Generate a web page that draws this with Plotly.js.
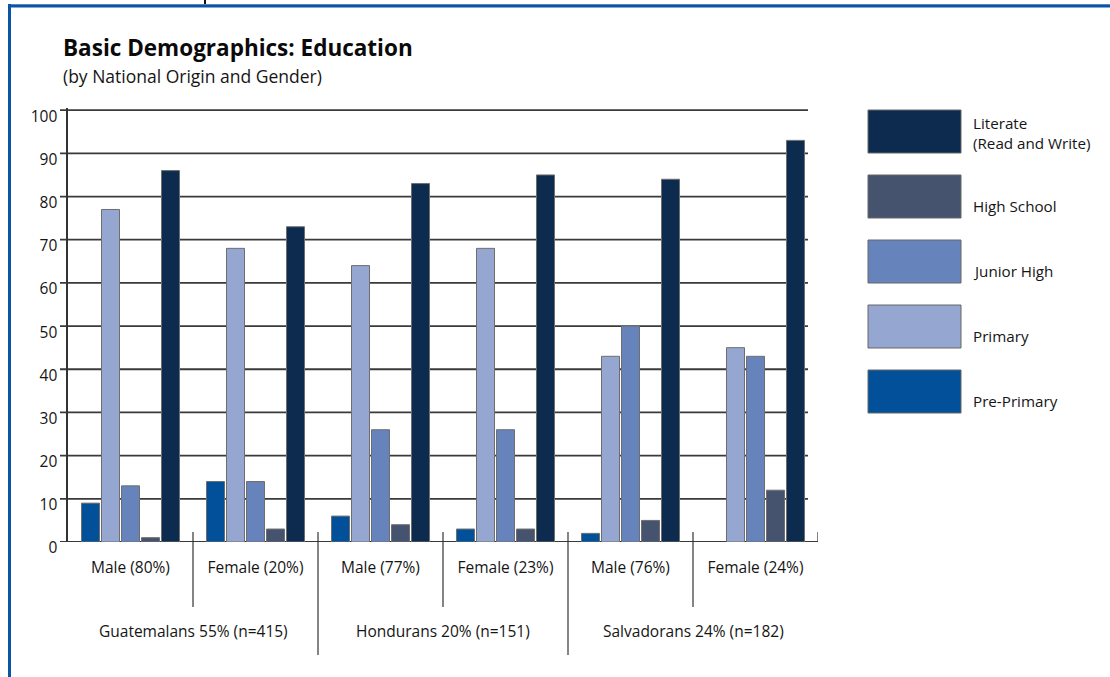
<!DOCTYPE html>
<html>
<head>
<meta charset="utf-8">
<script src="https://cdn.plot.ly/plotly-3.0.1.min.js"></script>
<style>html,body{margin:0;padding:0;background:#fff;}#chart{width:1110px;height:677px;}</style>
</head>
<body>
<div id="chart"></div>
<script>
// ---- data ----
const categories = ["Male (80%)", "Female (20%)", "Male (77%)", "Female (23%)", "Male (76%)", "Female (24%)"];
const countries = ["Guatemalans 55% (n=415)", "Hondurans 20% (n=151)", "Salvadorans 24% (n=182)"];
const prePrimary = [9, 14, 6, 3, 2, 0];
const primary    = [77, 68, 64, 68, 43, 45];
const juniorHigh = [13, 14, 26, 26, 50, 43];
const highSchool = [1, 3, 4, 3, 5, 12];
const literate   = [86, 73, 83, 85, 84, 93];
const seriesNames = ["Pre-Primary", "Primary", "Junior High", "High School", "Literate<br>(Read and Write)"];
const seriesColors = ["#02509a", "#95a6d0", "#6783bb", "#45536f", "#0d2b4e"];
const yTicks = [0, 10, 20, 30, 40, 50, 60, 70, 80, 90, 100];

// ---- layout helpers (pixel -> paper) ----
const L = 68, R = 818, T = 108, B = 542, W = 1110, H = 677;
const px = x => (x - L) / (R - L);
const py = y => (B - y) / (B - T);

const seriesValues = [prePrimary, primary, juniorHigh, highSchool, literate];
const traces = seriesValues.map((vals, i) => ({
  type: "bar",
  name: seriesNames[i],
  x: categories,
  y: vals,
  marker: { color: seriesColors[i], line: { color: "#6e6e6e", width: vals.map(v => v > 0 ? 1 : 0) } },
  showlegend: false,
  hoverinfo: "y+name"
}));

const font = "'Open Sans', 'Noto Sans', sans-serif";
const txt = "#151515";
const shapes = [];
const annotations = [];

// horizontal grid lines (drawn beneath bars)
yTicks.forEach(v => {
  shapes.push({ type: "line", layer: "below", xref: "paper", yref: "y", x0: px(60), x1: px(v === 0 ? 818 : 808), y0: v, y1: v, line: { color: "#3a3a3a", width: 1.8 } });
});

// frame
shapes.push({ type: "line", xref: "paper", yref: "paper", x0: px(8), x1: px(1112), y0: py(4.5), y1: py(4.5), line: { color: "#9db6d8", width: 1 } });
shapes.push({ type: "line", xref: "paper", yref: "paper", x0: px(8), x1: px(1112), y0: py(6), y1: py(6), line: { color: "#0a55a5", width: 3 } });
shapes.push({ type: "line", xref: "paper", yref: "paper", x0: px(9.5), x1: px(9.5), y0: py(4), y1: py(680), line: { color: "#0a55a5", width: 3 } });
shapes.push({ type: "line", xref: "paper", yref: "paper", x0: px(205), x1: px(205), y0: py(0), y1: py(4), line: { color: "#111", width: 2 } });

// category separators
for (let i = 0; i < categories.length; i++) {
  const xs = i + 0.5;
  let bottom;
  if (i === categories.length - 1) bottom = B;
  else if (i % 2 === 1) bottom = 655;
  else bottom = 607;
  shapes.push({ type: "line", xref: "x", yref: "paper", x0: xs, x1: xs, y0: py(532), y1: py(bottom), line: { color: "#333", width: 1.2 } });
}

// country labels
countries.forEach((c, j) => {
  annotations.push({ text: c, xref: "x", yref: "paper", x: 2 * j + 0.5, y: py(631), showarrow: false, xanchor: "center", yanchor: "middle", font: { family: font, size: 15.5, color: txt } });
});

// custom legend (top to bottom)
const legendOrder = [4, 3, 2, 1, 0];
const boxTops = [110, 175, 240, 305, 370];
legendOrder.forEach((si, k) => {
  const top = boxTops[k];
  shapes.push({ type: "rect", xref: "paper", yref: "paper", x0: px(868), x1: px(961), y0: py(top), y1: py(top + 43), fillcolor: seriesColors[si], line: { color: "#666", width: 1 } });
  annotations.push({ text: seriesNames[si], xref: "paper", yref: "paper", x: px(971), y: si === 4 ? py(133) : py(top + 31), showarrow: false, xanchor: "left", yanchor: "middle", align: "left", font: { family: font, size: 15.2, color: txt } });
});

// title + subtitle
annotations.push({ text: "<b>Basic Demographics: Education</b>", xref: "paper", yref: "paper", x: px(61), y: py(48), showarrow: false, xanchor: "left", yanchor: "middle", font: { family: font, size: 22.5, color: "#0a0a0a" } });
annotations.push({ text: "(by National Origin and Gender)", xref: "paper", yref: "paper", x: px(61), y: py(76), showarrow: false, xanchor: "left", yanchor: "middle", font: { family: font, size: 17.5, color: txt } });

const layout = {
  width: W, height: H,
  margin: { l: L, r: W - R, t: T, b: H - B, pad: 0 },
  paper_bgcolor: "#fff", plot_bgcolor: "rgba(0,0,0,0)",
  barmode: "group",
  bargap: 0.2,
  bargroupgap: 0.1,
  showlegend: false,
  font: { family: font, color: txt },
  xaxis: {
    type: "category",
    categoryorder: "array", categoryarray: categories,
    range: [-0.5, categories.length - 0.5],
    showgrid: false, zeroline: false,
    showline: false,
    ticks: "", ticklabelstandoff: 14,
    tickfont: { family: font, size: 15.5, color: txt },
    fixedrange: true
  },
  yaxis: {
    range: [0, 100.5],
    tickmode: "array", tickvals: yTicks, ticktext: yTicks.map(String),
    showgrid: false,
    zeroline: false,
    showline: true, linecolor: "#333", linewidth: 1.6,
    ticks: "outside", ticklen: 8, tickcolor: "rgba(0,0,0,0)",
    ticklabelshift: 6, ticklabelstandoff: -2,
    tickfont: { family: font, size: 15.5, color: txt },
    fixedrange: true
  },
  shapes: shapes,
  annotations: annotations
};

Plotly.newPlot("chart", traces, layout, { displayModeBar: false, staticPlot: true });
</script>
</body>
</html>
